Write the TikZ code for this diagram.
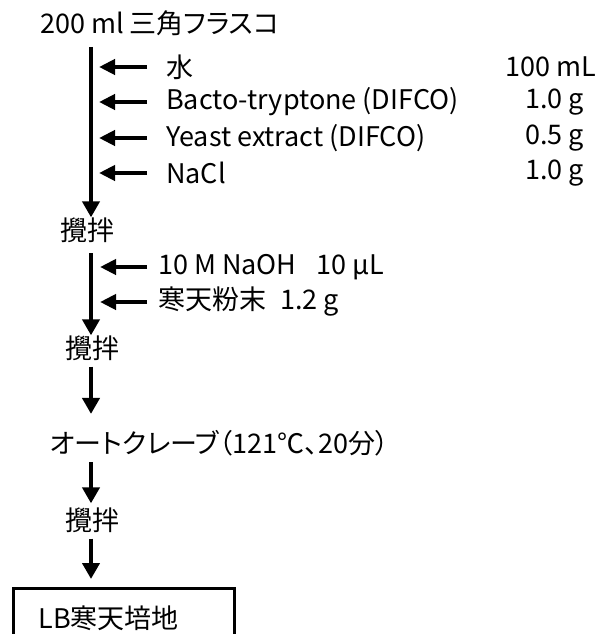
\documentclass[tikz,border=0pt]{standalone}
\usepackage{fontspec}
\setmainfont{Noto Sans CJK JP}[RawFeature=+palt]
\usetikzlibrary{arrows.meta}
\tikzset{
  txt/.style={font=\fontsize{27}{32}\selectfont,inner sep=0pt,anchor=west},
  flow/.style={line width=4pt,-{Triangle[width=17pt,length=16pt]}},
  feed/.style={line width=4pt,-{Triangle[width=15pt,length=16pt]}},
  result/.style={draw,line width=3pt,anchor=north west,font=\fontsize{27}{32}\selectfont,
    text width=171pt,inner xsep=25pt,minimum height=60pt,align=left}
}

\begin{document}
\begin{tikzpicture}[x=1pt,y=-1pt]
  \useasboundingbox (0,0) rectangle (597,634);
  % start
  \node[txt] (flask) at (40,23) {200 ml 三角フラスコ};
  \node[txt] (water) at (166,67) {水};
  \node[txt] (tryptone) at (166,102) {Bacto-tryptone (DIFCO)};
  \node[txt] (yeast) at (166,138) {Yeast extract (DIFCO)};
  \node[txt] (nacl) at (166,173) {NaCl};
  \node[txt] (amtwater) at (505,67) {100 mL};
  \node[txt] (amttryptone) at (525,102) {1.0 g};
  \node[txt] (amtyeast) at (525,138) {0.5 g};
  \node[txt] (amtnacl) at (525,173) {1.0 g};
  \node[txt] (stirA) at (60,230) {攪拌};
  % agar
  \node[txt] (naoh) at (158,267) {10 M NaOH\hspace{0.5em} 10 μL};
  \node[txt] (agar) at (158,302) {寒天粉末\hspace{0.3em} 1.2 g};
  \node[txt] (stirB) at (65,348) {攪拌};
  \node[txt] (autoclave) at (50,443) {オートクレーブ（121℃、20分）};
  \node[txt] (stirC) at (65,520) {攪拌};
  \node[result] (lb) at (12,587) {LB寒天培地};

  % main line
  \coordinate (colA) at (91,47);
  \coordinate (colB) at (91,253);
  \draw[flow] (colA) -- (colA |- stirA.north);
  \draw[flow] (colB) -- (colB |- stirB.north);
  \draw[flow] (colB |- stirB.south) ++(0,6) -- ([yshift=16pt]colB |- autoclave.north);
  \draw[flow] (colB |- autoclave.south) ++(0,6) -- ([yshift=4pt]colB |- stirC.north);
  \draw[flow] (colB |- stirC.south) ++(0,6) -- ([yshift=8pt]colB |- lb.north);

  % additions
  \foreach \n in {water,tryptone,yeast,nacl}
    \draw[feed] ([xshift=-19pt]\n.west) -- ([xshift=8pt]colA |- \n.west);
  \foreach \n in {naoh,agar}
    \draw[feed] ([xshift=-11pt]\n.west) -- ([xshift=9pt]colB |- \n.west);
\end{tikzpicture}
\end{document}
